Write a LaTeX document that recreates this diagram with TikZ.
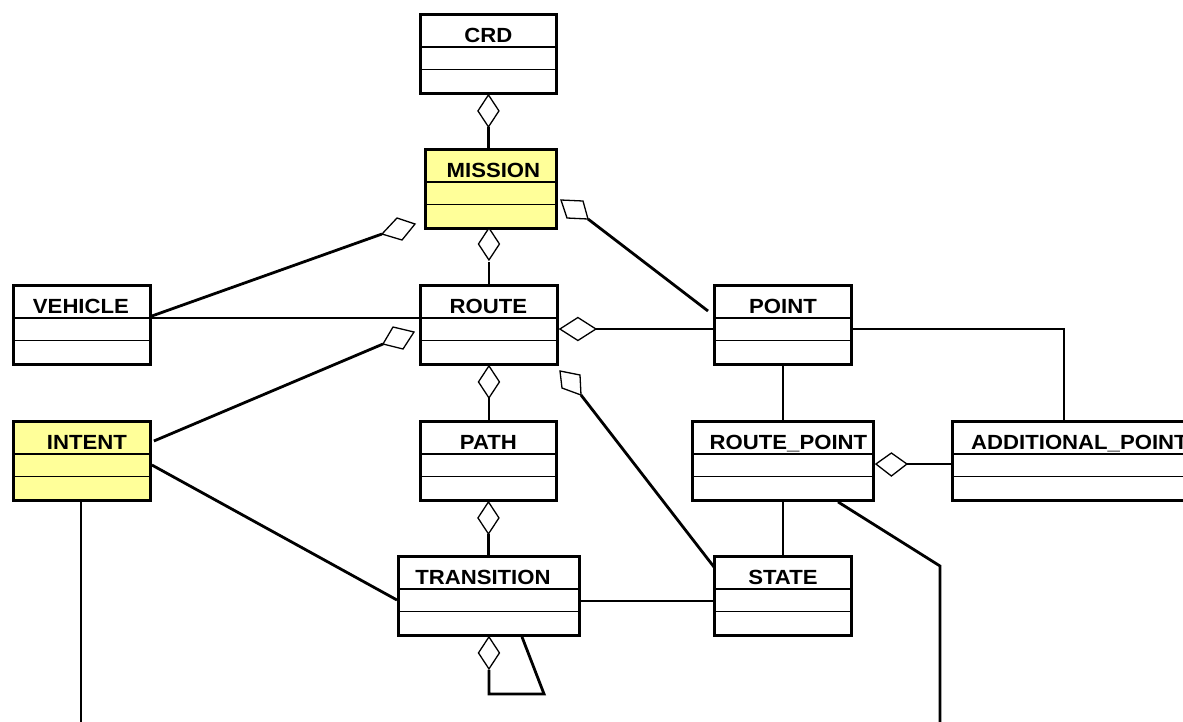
\documentclass[tikz,border=0pt]{standalone}
\usepackage{fontspec}
\setmainfont{Liberation Sans}[FakeStretch=1.08]
\usetikzlibrary{calc}
\definecolor{notefill}{RGB}{255,255,153}
\tikzset{
  classbox/.style={draw, line width=2.9pt, rectangle, anchor=north west,
    inner sep=0pt, minimum height=79pt},
  sepline/.style={line width=1.3pt},
  link/.style={line width=2.8pt, line join=miter},
  aggdiamond/.style={draw, fill=white, line width=1.3pt, line join=miter},
  titletext/.style={anchor=base, inner sep=0pt,
    font=\fontsize{20.5}{22}\selectfont\bfseries},
}
% class box: name, x, y, width, fill, title, title shift
\newcommand\umlclass[7]{%
  \node[classbox, fill=#5, minimum width=#4pt] (#1) at (#2,#3) {};
  \draw[sepline] ($(#1.north west)+(0,34)$) -- ($(#1.north east)+(0,34)$);
  \draw[sepline] ($(#1.north west)+(0,56.5)$) -- ($(#1.north east)+(0,56.5)$);
  \node[titletext] at ($(#1.north)+(#7,29.5)$) {#6};
}
% vertical aggregation diamond hanging below a point
\newcommand\vdiamond[1]{%
  \draw[aggdiamond] (#1) -- ++(10.5,16) -- ++(-10.5,16) -- ++(-10.5,-16) -- cycle;
}
\begin{document}
\begin{tikzpicture}[x=1pt,y=-1pt]
\useasboundingbox (0,0) rectangle (1183,721);
\clip (0,0) rectangle (1183,721);

% classes
\umlclass{crd}{419}{13}{136}{white}{CRD}{0}
\umlclass{mission}{424}{148}{131}{notefill}{MISSION}{2.5}
\umlclass{vehicle}{12}{284}{137}{white}{VEHICLE}{-1}
\umlclass{route}{419}{284}{137}{white}{ROUTE}{-0.5}
\umlclass{point}{713}{284}{137}{white}{POINT}{0}
\umlclass{intent}{12}{420}{137}{notefill}{INTENT}{5}
\umlclass{path}{419}{420}{136}{white}{PATH}{0}
\umlclass{routepoint}{691}{420}{181}{white}{ROUTE\_POINT}{5.5}
\umlclass{additional}{951}{420}{260}{white}{ADDITIONAL\_POINT}{-3}
\umlclass{transition}{397}{555}{181}{white}{TRANSITION}{-6}
\umlclass{state}{713}{555}{137}{white}{STATE}{0}

% free ends and diamond tips of slanted associations
\coordinate (vm-tip) at (382,234);
\coordinate (ir-tip) at (383,344);
\coordinate (mp-tip) at (588,219);
\coordinate (rs-tip) at (581,395);
\coordinate (rp-bend) at (940,566);
\coordinate (rp-end) at (940,725);
\coordinate (in-end) at (81,725);

% vertical aggregation chain
\draw[link] ($(crd.south)+(0,32)$) -- (crd.south |- mission.north);
\vdiamond{crd.south}
\draw[link] ($(route.north)+(0,-22)$) -- (route.north);
\vdiamond{$(route.north)+(0,-56)$}
\draw[link] ($(route.south)+(0,32)$) -- (route.south |- path.north);
\vdiamond{route.south}
\draw[link] ($(path.south)+(0,32)$) -- ($(path.south |- transition.north)$);
\vdiamond{path.south}

% transition self-aggregation
\draw[link] ($(transition.south)+(0,33)$) -- ($(transition.south)+(0,57)$)
  -- ($(transition.south west)+(147,57)$) -- ($(transition.south west)+(125,0)$);
\vdiamond{transition.south}

% vehicle associations
\draw[link] ($(vehicle.north east)+(0,34)$) -- ($(route.north west)+(0,34)$);
\draw[link] ($(vehicle.north east)+(0,32)$) -- (vm-tip);
\draw[aggdiamond] (vm-tip) -- (397,218) -- (415,224) -- (402,240) -- cycle;

% intent associations
\draw[link] ($(intent.north east)+(2,21)$) -- (ir-tip);
\draw[aggdiamond] (ir-tip) -- (393,327) -- (414,332) -- (403,349) -- cycle;
\draw[link] ($(intent.north east)+(0,45)$) -- ($(transition.north west)+(0,45)$);
\draw[link] ($(intent.south west)+(69,0)$) -- (in-end);

% mission to point
\draw[link] (mp-tip) -- ($(point.north west)+(-5,27)$);
\draw[aggdiamond] (561,200) -- (583,201) -- (mp-tip) -- (567,218) -- cycle;

% route to point
\draw[link] ($(route.north east)+(37,45)$) -- ($(point.north west)+(0,45)$);
\draw[aggdiamond] ($(route.north east)+(1,45)$) -- ++(18,-11.5) -- ++(18,11.5)
  -- ++(-18,11.5) -- cycle;

% route to state
\draw[link] (rs-tip) -- ($(state.north west)+(1,12)$);
\draw[aggdiamond] (560,371) -- (580,375) -- (rs-tip) -- (562,388) -- cycle;

% point associations
\draw[link] (point.south) -- (point.south |- routepoint.north);
\draw[link] ($(point.north east)+(0,45)$) -| ($(additional.north west)+(113,0)$);

% route point associations
\draw[link] ($(routepoint.north east)+(32,44)$) -- ($(additional.north west)+(0,44)$);
\draw[aggdiamond] ($(routepoint.north east)+(1,44)$) -- ++(15.5,-11) -- ++(15.5,11)
  -- ++(-15.5,12) -- cycle;
\draw[link] (routepoint.south) -- (routepoint.south |- state.north);
\draw[link] ($(routepoint.south west)+(147,0)$) -- (rp-bend) -- (rp-end);

% transition to state
\draw[link] ($(transition.north east)+(0,46)$) -- ($(state.north west)+(0,46)$);
\end{tikzpicture}
\end{document}
